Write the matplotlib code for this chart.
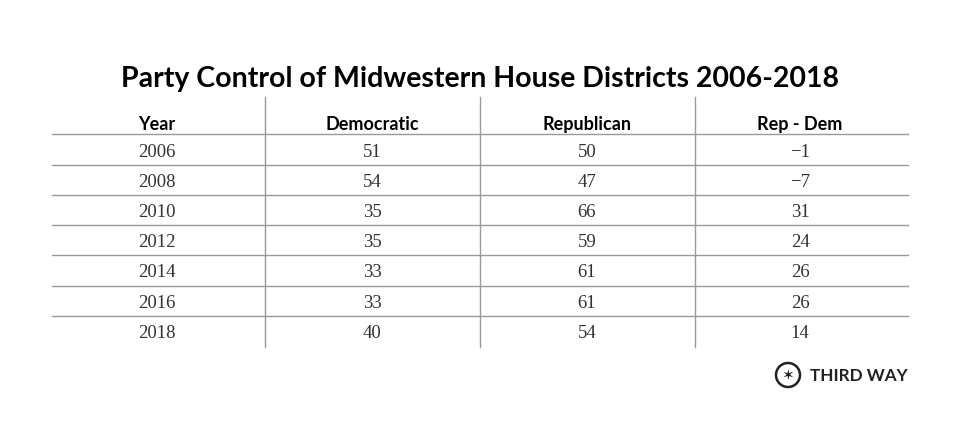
import matplotlib
matplotlib.use("Agg")
import matplotlib.pyplot as plt
from matplotlib.patches import Circle

title = "Party Control of Midwestern House Districts 2006-2018"
headers = ["Year", "Democratic", "Republican", "Rep - Dem"]
years = ["2006", "2008", "2010", "2012", "2014", "2016", "2018"]
dem = [51, 54, 35, 35, 33, 33, 40]
rep = [50, 47, 66, 59, 61, 61, 54]
diff = [-1, -7, 31, 24, 26, 26, 14]

fig = plt.figure(figsize=(9.6, 4.36), dpi=100)
ax = fig.add_axes([0, 0, 1, 1])
ax.set_xlim(0, 960); ax.set_ylim(436, 0); ax.axis("off")

ax.text(480, 79, title, ha="center", va="center", fontsize=20.5, fontweight="bold", family="Lato")
cols = [157, 372, 587, 800]
for x, h in zip(cols, headers):
    ax.text(x, 124, h, ha="center", va="center", fontsize=13, fontweight="bold", family="Lato")
gc = "#999999"
for x in [265, 480, 695]:
    ax.plot([x, x], [97, 347], color=gc, lw=1)
row0, rh = 152, 30.2
for i in range(len(years)):
    y = row0 + i * rh
    vals = [years[i], str(dem[i]), str(rep[i]), str(diff[i]).replace("-", "\u2212")]
    for x, v in zip(cols, vals):
        ax.text(x, y, v, ha="center", va="center", fontsize=13.5, family="Liberation Serif", color="#333333")
for i in range(len(years)):
    y = 134.5 + i * rh
    ax.plot([52, 908], [y, y], color=gc, lw=1)

ax.add_patch(Circle((788, 375), 12, fill=False, ec="#222222", lw=1.8))
ax.text(788, 375.5, "\u2736", ha="center", va="center", fontsize=11, color="#222222", family="DejaVu Sans")
ax.text(810, 376, "THIRD WAY", ha="left", va="center", fontsize=12.3, fontweight="bold", family="Lato", color="#222222")
fig.savefig("out.png", dpi=100)
